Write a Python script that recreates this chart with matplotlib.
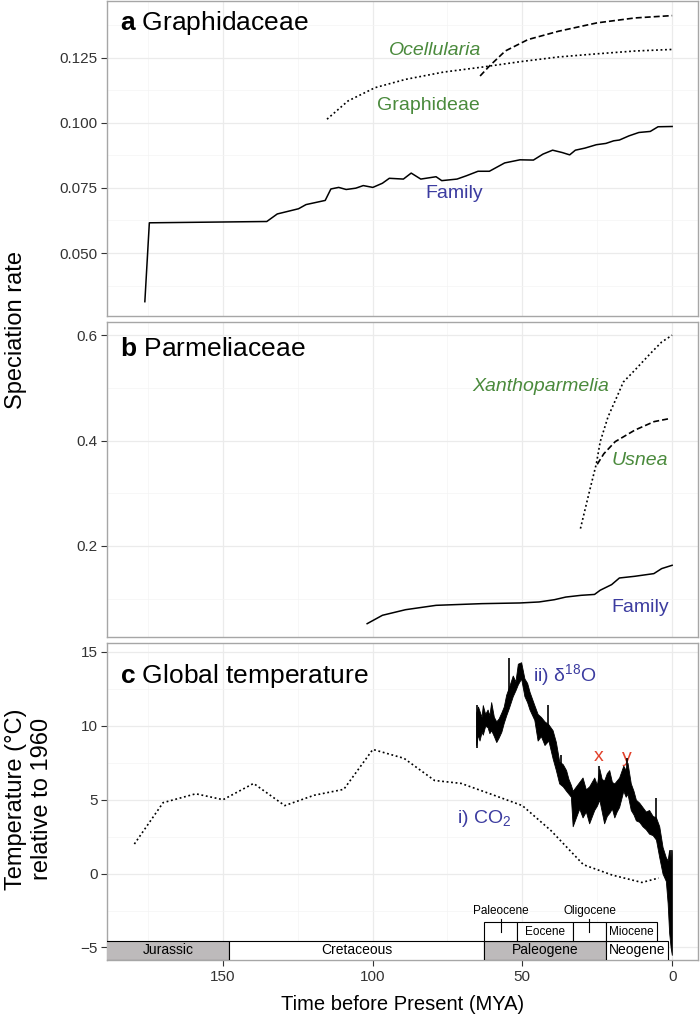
import matplotlib
matplotlib.use("Agg")
import matplotlib.pyplot as plt
from matplotlib.patches import Rectangle

plt.rcParams["font.family"] = ["Liberation Sans", "DejaVu Sans"]
plt.rcParams["mathtext.fontset"] = "custom"
plt.rcParams["mathtext.rm"] = "Liberation Sans"
plt.rcParams["mathtext.it"] = "Liberation Sans:italic"
plt.rcParams["mathtext.bf"] = "Liberation Sans:bold"

# ---- panel a: Graphidaceae (time in MYA, speciation rate)
gra_family_t = [176.0, 174.5, 135.3, 131.8, 124.7, 122.2, 115.8, 113.9, 111.3, 108.8,
                105.6, 103.1, 99.9, 96.7, 94.4, 89.7, 87.1, 83.9, 78.8, 76.9, 71.8,
                68.6, 64.8, 61.0, 55.9, 50.8, 46.3, 43.1, 39.9, 36.7, 34.2, 32.3,
                29.1, 25.3, 22.1, 19.5, 17.6, 14.4, 11.1, 7.3, 4.7, 0.0]
gra_family_r = [0.0313, 0.0616, 0.0621, 0.0650, 0.0670, 0.0686, 0.0702, 0.0746, 0.0752,
                0.0744, 0.0749, 0.0759, 0.0752, 0.0768, 0.0787, 0.0784, 0.0807, 0.0784,
                0.0793, 0.0778, 0.0784, 0.0797, 0.0814, 0.0814, 0.0846, 0.0858, 0.0857,
                0.0880, 0.0895, 0.0886, 0.0877, 0.0895, 0.0903, 0.0916, 0.0921, 0.0931,
                0.0934, 0.0950, 0.0963, 0.0967, 0.0985, 0.0986]
graphideae_t = [115.2, 108.2, 99.2, 89.0, 76.3, 63.5, 50.7, 38.0, 25.3, 12.4, 0.0]
graphideae_r = [0.1014, 0.1084, 0.1135, 0.1167, 0.1195, 0.1214, 0.1235, 0.1253, 0.1265,
                0.1276, 0.1282]
ocellularia_t = [64.1, 61.0, 55.7, 48.1, 37.9, 25.1, 12.4, 0.0]
ocellularia_r = [0.1180, 0.1218, 0.1276, 0.1320, 0.1352, 0.1384, 0.1403, 0.1412]

# ---- panel b: Parmeliaceae
par_family_t = [101.8, 96.7, 89.0, 78.8, 63.5, 50.8, 44.4, 39.3, 35.5, 30.4, 25.9, 24.0,
                20.2, 17.6, 12.5, 6.1, 3.5, 0.0]
par_family_r = [0.0525, 0.0684, 0.0790, 0.0873, 0.0905, 0.0918, 0.0937, 0.0980, 0.1030,
                0.1063, 0.1080, 0.1160, 0.1266, 0.1392, 0.1424, 0.1475, 0.1570, 0.1633]
xantho_t = [30.6, 27.8, 25.3, 24.0, 21.4, 18.2, 16.3, 12.4, 7.3, 3.5, 0.0]
xantho_r = [0.233, 0.299, 0.356, 0.398, 0.445, 0.486, 0.511, 0.534, 0.565, 0.587, 0.600]
usnea_t = [25.0, 22.8, 19.0, 12.4, 6.0, 0.6]
usnea_r = [0.355, 0.375, 0.398, 0.420, 0.436, 0.442]

# ---- panel c: global temperature
co2_t = [179.5, 169.9, 159.0, 149.9, 139.7, 129.3, 119.5, 109.6, 99.9, 89.5, 79.3,
         70.4, 60.8, 50.0, 40.4, 29.6, 20.0, 10.1, 4.5]
co2_temp = [2.0, 4.8, 5.4, 5.0, 6.1, 4.6, 5.3, 5.7, 8.4, 7.8, 6.3, 6.1, 5.4, 4.6, 2.9,
            0.6, -0.1, -0.6, -0.3]
# d18O record: band of the noisy curve (upper / lower edge) ...
d18o_t = [65.4, 64.8, 64.3, 63.6, 63.2, 62.4, 61.6, 61.0, 60.4, 59.5, 58.7, 57.9, 57.0,
          56.2, 55.4, 54.5, 53.2, 52.3, 51.5, 50.4, 49.3, 48.4, 47.6, 46.0, 44.9, 43.8,
          42.6, 41.3, 39.9, 38.8, 37.7, 36.5, 35.4, 34.6, 33.8, 33.2, 32.1, 31.0, 29.9,
          28.8, 27.7, 26.0, 25.1, 24.3, 23.5, 22.7, 21.8, 21.0, 20.1, 19.3, 18.5, 17.7,
          16.3, 15.5, 14.9, 13.8, 12.9, 12.1, 11.0, 9.9, 8.8, 7.7, 6.5, 5.4, 4.3, 3.2,
          2.1, 1.5, 1.0, 0.5, 0.1]
d18o_hi = [10.9, 11.3, 11.0, 10.6, 11.4, 10.8, 11.1, 10.7, 11.6, 10.6, 10.3, 10.5, 10.9,
           11.3, 12.1, 12.6, 13.4, 13.0, 14.2, 14.3, 13.2, 12.9, 12.3, 11.4, 10.8, 10.6,
           10.3, 10.1, 9.7, 8.9, 7.6, 7.4, 7.0, 6.4, 6.0, 5.6, 5.9, 6.2, 6.5, 5.7, 5.9,
           6.5, 6.0, 7.1, 6.4, 6.3, 6.8, 7.0, 6.2, 6.1, 6.3, 6.5, 7.3, 7.0, 7.5, 6.1,
           5.6, 5.0, 4.8, 4.5, 4.2, 4.3, 3.9, 3.8, 3.2, 1.8, 1.1, 0.9, 1.6, 0.6, 1.6]
d18o_lo = [8.7, 9.4, 9.0, 9.6, 9.4, 10.0, 9.9, 9.5, 9.7, 9.3, 8.9, 9.2, 9.6, 10.2, 10.7,
           11.2, 12.0, 12.4, 12.8, 13.2, 12.0, 11.6, 11.1, 10.4, 9.0, 9.3, 8.7, 9.0, 7.8,
           7.0, 6.1, 5.9, 5.6, 5.4, 5.2, 3.2, 3.8, 4.4, 3.8, 4.2, 3.4, 4.3, 4.6, 5.0, 4.2,
           3.4, 3.9, 4.1, 4.4, 3.8, 4.2, 4.5, 5.6, 5.2, 5.4, 4.3, 4.0, 3.6, 3.5, 3.2, 3.0,
           2.7, 2.6, 2.3, 1.1, 0.0, -0.5, -2.0, -4.0, -5.0, -5.5]
# ... and the thin single spikes that stick out of it (time, low, high)
spike_t = [65.1, 54.5, 41.3, 37.2, 24.3, 15.0, 5.4, 0.3]
spike_lo = [8.5, 12.0, 9.6, 6.5, 5.0, 6.0, 2.6, -0.5]
spike_hi = [11.4, 14.6, 11.4, 8.0, 7.3, 7.8, 5.1, 1.6]

# geological timescale (start, end in MYA, label, fill)
periods = [(200.0, 147.8, "Jurassic", "#bdbabb"),
           (147.8, 62.7, "Cretaceous", "white"),
           (62.7, 22.0, "Paleogene", "#bdbabb"),
           (22.0, 1.3, "Neogene", "white")]
epochs = [(62.7, 51.7, "Paleocene"),
          (51.7, 33.2, "Eocene"),
          (33.2, 22.0, "Oligocene"),
          (22.0, 5.1, "Miocene")]

GREEN = "#4a8a3c"
BLUE = "#3c3ca0"
RED = "#e2412b"
DOT = (0, (1.1, 1.6))
DASH = (0, (3.6, 1.8))
XLIM = (188.6, -8.6)

fig = plt.figure(figsize=(7.0, 10.21), dpi=100)
left, width = 0.153, 0.844
ax_a = fig.add_axes([left, 0.6905, width, 0.3085])
ax_b = fig.add_axes([left, 0.3760, width, 0.3086])
ax_c = fig.add_axes([left, 0.0597, width, 0.3105])


def style(ax, ylim, yticks, yminor, show_x):
    ax.set_xlim(*XLIM)
    ax.set_ylim(*ylim)
    ax.set_xticks([150, 100, 50, 0])
    ax.set_xticks([175, 125, 75, 25], minor=True)
    ax.set_yticks(yticks)
    ax.set_yticks(yminor, minor=True)
    ax.grid(True, which="major", color="#ebebeb", lw=0.9)
    ax.grid(True, which="minor", color="#f4f4f4", lw=0.5)
    ax.set_axisbelow(True)
    for s in ax.spines.values():
        s.set_color("#a6a6a6")
        s.set_linewidth(1.0)
    ax.tick_params(which="minor", length=0)
    ax.tick_params(axis="y", which="major", length=4, color="#333333",
                   labelsize=11, labelcolor="#333333", pad=3)
    if show_x:
        ax.tick_params(axis="x", which="major", length=4, color="#333333",
                       labelsize=11, labelcolor="#333333", pad=3)
    else:
        ax.tick_params(axis="x", which="major", length=0, labelbottom=False)


def title(ax, letter, name, yfrac):
    ax.text(0.022, yfrac, r"$\mathbf{" + letter + "}$ " + name,
            transform=ax.transAxes, fontsize=19, va="baseline", ha="left")


# panel a
style(ax_a, (0.0258, 0.1468), [0.050, 0.075, 0.100, 0.125],
      [0.0375, 0.0625, 0.0875, 0.1125, 0.1375], False)
ax_a.set_yticklabels(["0.050", "0.075", "0.100", "0.125"])
ax_a.plot(gra_family_t, gra_family_r, color="black", lw=1.1)
ax_a.plot(graphideae_t, graphideae_r, color="black", lw=1.2, ls=DOT)
ax_a.plot(ocellularia_t, ocellularia_r, color="black", lw=1.2, ls=DASH)
ax_a.text(79.1, 0.1277, "Ocellularia", color=GREEN, fontsize=14, style="italic",
          ha="center", va="center")
ax_a.text(81.3, 0.1065, "Graphideae", color=GREEN, fontsize=14, ha="center", va="center")
ax_a.text(72.7, 0.0728, "Family", color=BLUE, fontsize=14, ha="center", va="center")
title(ax_a, "a", "Graphidaceae", 0.908)

# panel b
style(ax_b, (0.027, 0.625), [0.2, 0.4, 0.6], [0.1, 0.3, 0.5], False)
ax_b.plot(par_family_t, par_family_r, color="black", lw=1.1)
ax_b.plot(xantho_t, xantho_r, color="black", lw=1.2, ls=DOT)
ax_b.plot(usnea_t, usnea_r, color="black", lw=1.2, ls=DASH)
ax_b.text(43.7, 0.502, "Xanthoparmelia", color=GREEN, fontsize=14, style="italic",
          ha="center", va="center")
ax_b.text(10.7, 0.363, "Usnea", color=GREEN, fontsize=14, style="italic",
          ha="center", va="center")
ax_b.text(10.7, 0.084, "Family", color=BLUE, fontsize=14, ha="center", va="center")
title(ax_b, "b", "Parmeliaceae", 0.892)

# panel c
style(ax_c, (-5.85, 15.6), [-5, 0, 5, 10, 15], [-2.5, 2.5, 7.5, 12.5], True)
ax_c.set_yticklabels(["\u22125", "0", "5", "10", "15"])
ax_c.plot(co2_t, co2_temp, color="black", lw=1.2, ls=DOT)
ax_c.fill_between(d18o_t, d18o_lo, d18o_hi, color="black", lw=0.6, zorder=4)
ax_c.vlines(spike_t, spike_lo, spike_hi, color="black", lw=1.2, zorder=4)

for start, end, name, fc in periods:
    ax_c.add_patch(Rectangle((end, -5.85), start - end, 5.85 - 4.57, facecolor=fc,
                             edgecolor="black", lw=0.8, zorder=3))
    ax_c.text((min(start, XLIM[0]) + end) / 2, -5.2, name, fontsize=10,
              ha="center", va="center", zorder=3)
for start, end, name in epochs:
    ax_c.add_patch(Rectangle((end, -4.57), start - end, 4.57 - 3.30, facecolor="white",
                             edgecolor="black", lw=0.8, zorder=3))
    mid = (start + end) / 2
    if name in ("Paleocene", "Oligocene"):
        ax_c.plot([mid, mid], [-3.05, -3.93], color="black", lw=0.8, zorder=3)
        ax_c.text(mid, -2.55, name, fontsize=8.5, ha="center", va="center", zorder=3)
    else:
        ax_c.text(mid, -3.93, name, fontsize=8.5, ha="center", va="center", zorder=3)

ax_c.text(36.0, 13.44, r"ii) $\mathrm{\delta}^{18}$O", color=BLUE, fontsize=14,
          ha="center", va="center")
ax_c.text(62.8, 3.74, r"i) CO$_2$", color=BLUE, fontsize=14, ha="center", va="center")
ax_c.text(24.6, 7.9, "x", color=RED, fontsize=14, ha="center", va="center")
ax_c.text(15.1, 7.86, "y", color=RED, fontsize=14, ha="center", va="center")
title(ax_c, "c", "Global temperature", 0.874)
ax_c.set_xlabel("Time before Present (MYA)", fontsize=14.5, labelpad=8)

fig.text(16 / 700, 1 - 330 / 1021, "Speciation rate", rotation=90, fontsize=17,
         ha="center", va="center")
fig.text(29 / 700, 1 - 799 / 1021, "Temperature (\u00b0C)\nrelative to 1960",
         rotation=90, fontsize=17, ha="center", va="center", linespacing=1.25)

fig.savefig("out.png", dpi=100)
